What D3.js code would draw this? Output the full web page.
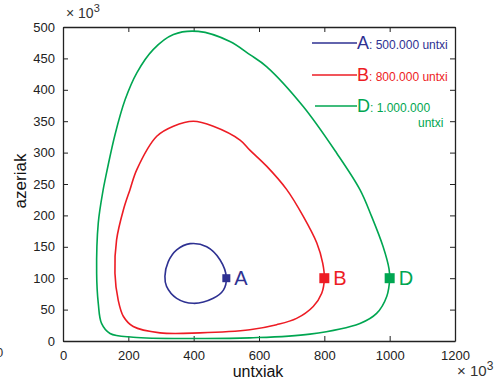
<!DOCTYPE html>
<html>
<head>
<meta charset="utf-8">
<script src="https://cdn.jsdelivr.net/npm/d3@7"></script>
<style>
  body { margin: 0; background: #fff; }
  text { font-family: "Liberation Sans", Arial, sans-serif; }
</style>
</head>
<body>
<script>
// values in thousands (x 10^3)
var xTicks = [0, 200, 400, 600, 800, 1000, 1200];
var yTicks = [0, 50, 100, 150, 200, 250, 300, 350, 400, 450, 500];

var curveA = [[500,101],[491,81],[460,68],[399,60],[348,68],[317,87],[312,103],[322,126],[348,145],[389,155],[440,150],[481,129]];
var curveB = [[800,100],[792,76],[766,55],[715,36],[654,26],[572,18],[419,13],[297,13],[215,23],[185,39],[169,65],[159,108],[164,161],[185,209],[205,241],[226,273],[287,326],[338,342],[399,350],[460,342],[542,320],[572,304],[624,278],[685,241],[736,198],[777,156],[795,124]];
var curveD = [[1000,100],[991,71],[960,44],[909,28],[756,11],[572,5],[400,4],[215,6],[144,12],[118,28],[108,60],[103,108],[108,188],[123,241],[129,257],[159,328],[190,384],[226,427],[276,464],[338,488],[414,493],[511,477],[572,456],[623,437],[736,373],[838,299],[909,241],[945,198],[980,150],[998,115]];

var series = [
  {key: 'A', pts: curveA, color: '#2e3192', mark: [500, 100], size: 8, label: ['A', ': 500.000 untxi', '']},
  {key: 'B', pts: curveB, color: '#ed1c24', mark: [800, 100], size: 10, label: ['B', ': 800.000 untxi', '']},
  {key: 'D', pts: curveD, color: '#00a651', mark: [1000, 100], size: 10, label: ['D', ': 1.000.000', 'untxi']}
];

var W = 502, H = 381;
var L = 63, R = 455, T = 27, B = 341;

var svg = d3.select('body').append('svg')
    .attr('width', W)
    .attr('height', H);

var x = d3.scaleLinear().domain([0, 1200]).range([L, R]);
var y = d3.scaleLinear().domain([0, 500]).range([B, T]);

var axisCol = '#222';

// bottom / left axes with labels, top / right ticks only; ticks point inward
svg.append('g')
    .attr('transform', 'translate(0,' + B + ')')
    .call(d3.axisBottom(x).tickValues(xTicks).tickSizeInner(-5).tickSizeOuter(0).tickPadding(10).tickFormat(d3.format('d')));
svg.append('g')
    .attr('transform', 'translate(0,' + T + ')')
    .call(d3.axisTop(x).tickValues(xTicks).tickSizeInner(-5).tickSizeOuter(0).tickFormat(''));
svg.append('g')
    .attr('transform', 'translate(' + L + ',0)')
    .call(d3.axisLeft(y).tickValues(yTicks).tickSizeInner(-5).tickSizeOuter(0).tickPadding(8));
svg.append('g')
    .attr('transform', 'translate(' + R + ',0)')
    .call(d3.axisRight(y).tickValues(yTicks).tickSizeInner(-5).tickSizeOuter(0).tickFormat(''));

svg.selectAll('.domain').attr('stroke', axisCol).attr('stroke-width', 1.3);
svg.selectAll('.tick line').attr('stroke', axisCol).attr('stroke-width', 1);
svg.selectAll('.tick text')
    .attr('font-size', 13)
    .attr('fill', '#222')
    .style('font-family', '"Liberation Sans", Arial, sans-serif');

// curves (closed orbits)
var line = d3.line()
    .x(function(d) { return x(d[0]); })
    .y(function(d) { return y(d[1]); })
    .curve(d3.curveCatmullRomClosed.alpha(0.5));

series.forEach(function(s) {
  svg.append('path')
      .attr('d', line(s.pts))
      .attr('fill', 'none')
      .attr('stroke', s.color)
      .attr('stroke-width', 1.6)
      .attr('stroke-linejoin', 'round');

  svg.append('rect')
      .attr('x', x(s.mark[0]) - s.size / 2)
      .attr('y', y(s.mark[1]) - s.size / 2)
      .attr('width', s.size)
      .attr('height', s.size)
      .attr('fill', s.color);

  svg.append('text')
      .attr('x', x(s.mark[0]) + s.size / 2 + 4)
      .attr('y', y(s.mark[1]) + 7)
      .attr('font-size', 20)
      .attr('fill', s.color)
      .text(s.key);
});

// legend
var legY = [43, 75, 106];
series.forEach(function(s, i) {
  var g = svg.append('g');
  g.append('line')
      .attr('x1', i === 2 ? 315 : 312).attr('x2', 357)
      .attr('y1', legY[i]).attr('y2', legY[i])
      .attr('stroke', s.color).attr('stroke-width', 1.6);
  var t = g.append('text')
      .attr('x', 357)
      .attr('y', legY[i] + 6)
      .attr('fill', s.color);
  t.append('tspan').attr('font-size', 18).text(s.label[0]);
  t.append('tspan').attr('font-size', 12).text(s.label[1]);
  if (s.label[2]) {
    g.append('text')
        .attr('x', 418)
        .attr('y', legY[i] + 21)
        .attr('font-size', 12)
        .attr('fill', s.color)
        .text(s.label[2]);
  }
});

// exponent markers
function exponent(px, py, fs) {
  var t = svg.append('text')
      .attr('x', px).attr('y', py)
      .attr('font-size', fs)
      .attr('fill', '#333');
  t.append('tspan').text('\u00d7 10');
  t.append('tspan').attr('font-size', fs - 3).attr('dy', -6).text('3');
}
exponent(66, 18, 14);
exponent(457, 376, 15);

// axis titles
svg.append('text')
    .attr('x', 258)
    .attr('y', 377)
    .attr('text-anchor', 'middle')
    .attr('font-size', 16)
    .attr('fill', '#111')
    .text('untxiak');

svg.append('text')
    .attr('transform', 'translate(26,181) rotate(-90)')
    .attr('text-anchor', 'middle')
    .attr('font-size', 17)
    .attr('fill', '#111')
    .text('azeriak');

// stray clipped zero at the left edge
svg.append('text')
    .attr('x', -4)
    .attr('y', 357)
    .attr('font-size', 13)
    .attr('fill', '#333')
    .text('0');
</script>
</body>
</html>
